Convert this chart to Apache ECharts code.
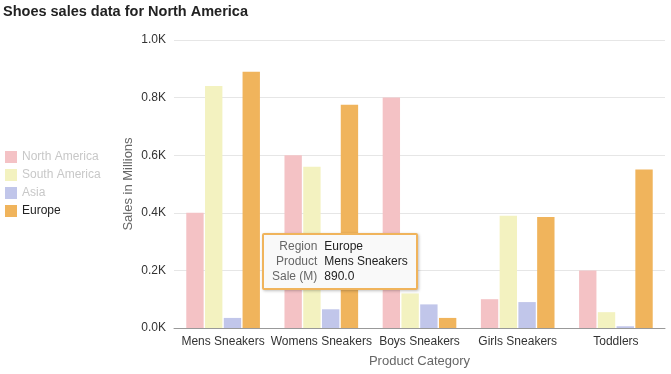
<!DOCTYPE html>
<html><head><meta charset="utf-8">
<script src="https://cdn.jsdelivr.net/npm/echarts@6/dist/echarts.min.js"></script>
<style>html,body{margin:0;padding:0;background:#fff}#c{width:671px;height:374px}
.tt td{padding:0;line-height:15px;height:15px}
.tt td.k{text-align:right;padding-right:7px;color:#666}
.tt td.v{color:#222}</style>
</head><body><div id="c"></div>
<script>
var categories = ['Mens Sneakers','Womens Sneakers','Boys Sneakers','Girls Sneakers','Toddlers'];
var regions = ['North America','South America','Asia','Europe'];
var northAmerica = [400, 600, 800, 100, 200];
var southAmerica = [840, 560, 120, 390, 55];
var asia = [35, 65, 82, 90, 6];
var europe = [890, 775, 35, 385, 550];
var yTicks = [0, 200, 400, 600, 800, 1000];
var colors = ['#f4c2c5','#f3f2c0','#c1c6ea','#f0b45c'];
var seriesData = [northAmerica, southAmerica, asia, europe];

var chart = echarts.init(document.getElementById('c'));
var font = 'Arial, "Liberation Sans", sans-serif';
chart.setOption({
  animation: false,
  textStyle: {fontFamily: font},
  title: {text: 'Shoes sales data for North America', left: 3, top: 4, padding: 0,
    textStyle: {fontSize: 14.5, fontWeight: 'bold', color: '#222', fontFamily: font}},
  legend: {
    orient: 'vertical', left: 5, top: 151, padding: 0, itemWidth: 12, itemHeight: 12, itemGap: 6,
    icon: 'rect', selectedMode: false,
    textStyle: {fontSize: 12, fontFamily: font},
    data: regions.map(function (r, i) {
      return {name: r, textStyle: {color: i === 3 ? '#222' : '#c8c8c8'}};
    })
  },
  tooltip: {
    trigger: 'item', transitionDuration: 0, alwaysShowContent: true,
    backgroundColor: '#f9f9f9', borderColor: '#f0b45c', borderWidth: 2,
    padding: [4, 8], extraCssText: 'box-shadow:1px 1px 3px rgba(0,0,0,0.25);border-radius:2px;line-height:15px;',
    textStyle: {fontSize: 12, color: '#333', fontFamily: font},
    position: function () { return [262, 233]; },
    formatter: function (p) {
      return '<table class="tt" style="border-collapse:collapse;font-size:12px;font-family:Arial, Liberation Sans, sans-serif">' +
        '<tr><td class="k">Region</td><td class="v">' + p.seriesName + '</td></tr>' +
        '<tr><td class="k">Product</td><td class="v">' + p.name + '</td></tr>' +
        '<tr><td class="k">Sale (M)</td><td class="v">' + p.value.toFixed(1) + '</td></tr></table>';
    }
  },
  grid: {left: 174, right: 6, top: 40, bottom: 46},
  xAxis: {
    type: 'category', data: categories,
    name: 'Product Category', nameLocation: 'middle', nameGap: 27, nameMoveOverlap: false,
    nameTextStyle: {fontSize: 13, color: '#666'},
    axisLine: {lineStyle: {color: '#999'}}, axisTick: {show: false},
    axisLabel: {fontSize: 12, color: '#333', interval: 0, margin: 8}
  },
  yAxis: {
    type: 'value', min: 0, max: 1000, interval: 200,
    name: 'Sales in Millions', nameLocation: 'middle', nameGap: 39, nameMoveOverlap: false,
    nameTextStyle: {fontSize: 13, color: '#666'},
    axisLine: {show: false}, axisTick: {show: false},
    splitLine: {lineStyle: {color: '#e6e6e6'}},
    axisLabel: {fontSize: 12, color: '#333', margin: 8,
      formatter: function (v) { return (v / 1000).toFixed(1) + 'K'; }}
  },
  series: regions.map(function (r, i) {
    return {name: r, type: 'bar', data: seriesData[i], barGap: '8%', barCategoryGap: '25%',
      itemStyle: {color: colors[i]}, emphasis: {disabled: true}};
  })
});
chart.dispatchAction({type: 'showTip', seriesIndex: 3, dataIndex: 0});
</script></body></html>
